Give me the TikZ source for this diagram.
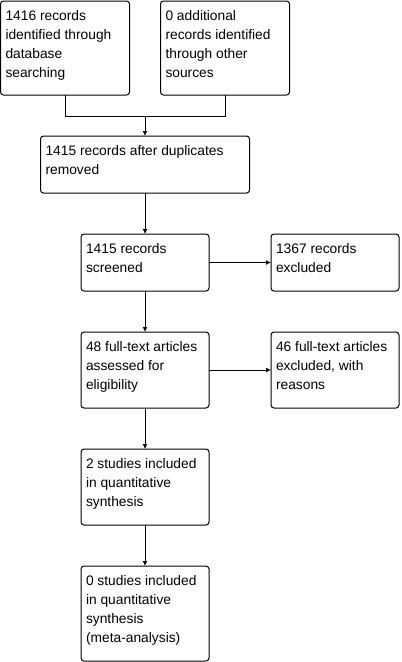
\documentclass[tikz,border=0pt]{standalone}
\usepackage{fontspec}
\setmainfont{Liberation Sans}
\usetikzlibrary{arrows.meta}
\tikzset{
  box/.style={draw=black, line width=1pt, rounded corners=3pt, inner sep=0pt, outer sep=0pt, anchor=north west},
  txt/.style={inner sep=0pt, outer sep=0pt, anchor=base west, font=\fontsize{13.8}{19}\selectfont},
  link/.style={draw=black, line width=1pt},
  arr/.style={link, -{Latex[length=5pt,width=5pt]}}
}
\newcommand{\boxtext}[1]{\parbox[t]{200pt}{\raggedright #1}}
\begin{document}
\begin{tikzpicture}[x=1pt,y=-1pt]
\useasboundingbox (0,0) rectangle (402,662);
% boxes
\node[box, minimum width=129pt, minimum height=94pt] (b1) at (0.5,1) {};
\node[box, minimum width=129pt, minimum height=94pt] (b2) at (160.5,1) {};
\node[box, minimum width=209pt, minimum height=57pt] (b3) at (40.5,136) {};
\node[box, minimum width=128pt, minimum height=57pt] (b4) at (81,234) {};
\node[box, minimum width=128pt, minimum height=57pt] (b5) at (271,234) {};
\node[box, minimum width=128pt, minimum height=76pt] (b6) at (81,332) {};
\node[box, minimum width=128pt, minimum height=76pt] (b7) at (271,332) {};
\node[box, minimum width=128pt, minimum height=76pt] (b8) at (81,449) {};
\node[box, minimum width=128pt, minimum height=95pt] (b9) at (81,566) {};
% texts
\node[txt] (t1) at ([xshift=5pt,yshift=-19pt]b1.north west) {\boxtext{1416 records\\identified through\\database\\searching}};
\node[txt] (t2) at ([xshift=5pt,yshift=-19pt]b2.north west) {\boxtext{0 additional\\records identified\\through other\\sources}};
\node[txt] (t3) at ([xshift=5pt,yshift=-19pt]b3.north west) {\boxtext{1415 records after duplicates\\removed}};
\node[txt] (t4) at ([xshift=5pt,yshift=-19pt]b4.north west) {\boxtext{1415 records\\screened}};
\node[txt] (t5) at ([xshift=5pt,yshift=-19pt]b5.north west) {\boxtext{1367 records\\excluded}};
\node[txt] (t6) at ([xshift=5pt,yshift=-19pt]b6.north west) {\boxtext{48 full-text articles\\assessed for\\eligibility}};
\node[txt] (t7) at ([xshift=5pt,yshift=-19pt]b7.north west) {\boxtext{46 full-text articles\\excluded, with\\reasons}};
\node[txt] (t8) at ([xshift=5pt,yshift=-19pt]b8.north west) {\boxtext{2 studies included\\in quantitative\\synthesis}};
\node[txt] (t9) at ([xshift=5pt,yshift=-19pt]b9.north west) {\boxtext{0 studies included\\in quantitative\\synthesis\\(meta-analysis)}};
% connectors
\coordinate (j) at (145,116);
\draw[link] (b1.south) |- (j);
\draw[link] (b2.south) |- (j);
\draw[arr] (j) -- (b3.north -| j);
\draw[arr] (b3.south -| b4.north) -- (b4.north);
\draw[arr] (b4.east) -- (b5.west);
\draw[arr] (b4.south) -- (b6.north);
\draw[arr] (b6.east) -- (b7.west);
\draw[arr] (b6.south) -- (b8.north);
\draw[arr] (b8.south) -- (b9.north);
\end{tikzpicture}
\end{document}
